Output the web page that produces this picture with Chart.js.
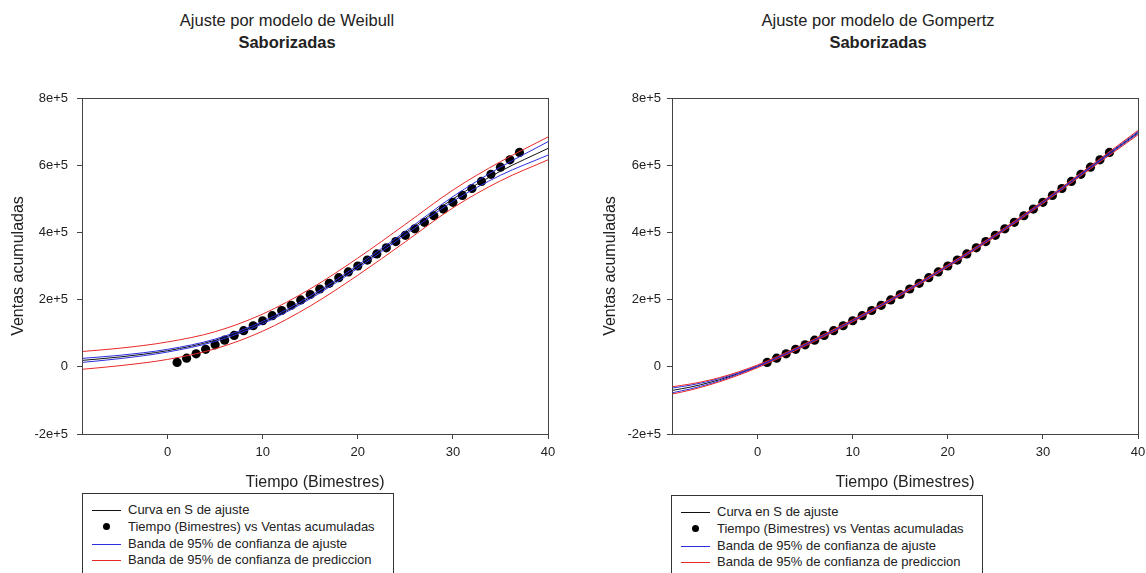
<!DOCTYPE html>
<html>
<head>
<meta charset="utf-8">
<script src="https://cdn.jsdelivr.net/npm/chart.js@4.4.1/dist/chart.umd.min.js"></script>
<style>
  body { margin: 0; background: #fff; overflow: hidden; font-family: 'Liberation Sans', Arial, sans-serif; color: #222; }
  #page { position: relative; width: 1146px; height: 573px; overflow: hidden; }
  canvas { position: absolute; top: 0; }
  .title { position: absolute; width: 400px; text-align: center; font-size: 16.5px; line-height: 20px; white-space: nowrap; }
  .sub { font-weight: bold; }
  .legend { position: absolute; width: 312px; height: 100px; box-sizing: border-box; border: 1px solid #333; background: #fff; }
  .row { position: absolute; left: 0; width: 100%; height: 0; font-size: 13px; }
  .swatch { position: absolute; left: 9px; top: 0; width: 29px; height: 1px; }
  .dot { position: absolute; left: 20px; top: -4px; width: 7px; height: 7px; border-radius: 50%; background: #000; }
  .label { position: absolute; left: 45px; top: -8px; line-height: 16px; white-space: nowrap; }
</style>
</head>
<body>
<div id="page">
  <div class="title" style="left: 87px; top: 10px;">Ajuste por modelo de Weibull</div>
  <div class="title sub" style="left: 87px; top: 32px;">Saborizadas</div>
  <div class="title" style="left: 678px; top: 10px;">Ajuste por modelo de Gompertz</div>
  <div class="title sub" style="left: 678px; top: 32px;">Saborizadas</div>
  <canvas id="chart-weibull" width="573" height="500" style="left: 0px;"></canvas>
  <canvas id="chart-gompertz" width="573" height="500" style="left: 590px;"></canvas>
  <div class="legend" id="legend-weibull" style="left: 82px; top: 493px;"></div>
  <div class="legend" id="legend-gompertz" style="left: 671px; top: 495px;"></div>
</div>
<script>
'use strict';

// observed data: bimestre number vs cumulative sales
const periods = [1, 2, 3, 4, 5, 6, 7, 8, 9, 10, 11, 12, 13, 14, 15, 16, 17, 18, 19, 20,
  21, 22, 23, 24, 25, 26, 27, 28, 29, 30, 31, 32, 33, 34, 35, 36, 37];
const sales = [13000, 25700, 38700, 51900, 65500, 79200, 93300, 107600, 122200, 137000,
  152100, 167500, 183100, 199000, 215200, 231600, 248300, 265300, 282500, 300000,
  317700, 335800, 354100, 372600, 391400, 410500, 429900, 449500, 469400, 489500,
  509900, 530600, 551600, 572800, 594200, 616000, 638000];

const xTicks = [0, 10, 20, 30, 40];
const yTicks = [-200000, 0, 200000, 400000, 600000, 800000];
const yTickLabels = ['-2e+5', '0', '2e+5', '4e+5', '6e+5', '8e+5'];

// Weibull fit and bands
const weibullX = [-9, -5, 0, 5, 10, 15, 20, 25, 30, 35, 40];
const weibullFit = [19000, 29400, 48000, 79000, 131500, 206500, 298000, 398000, 499500, 582000, 650000];
const weibullFitUpper = [25000, 34400, 52000, 82500, 135000, 210500, 302500, 403000, 506500, 594000, 670000];
const weibullFitLower = [13000, 24400, 44000, 75500, 128000, 202500, 293500, 393000, 492500, 570000, 630000];
const weibullPredUpper = [45500, 55400, 74000, 104500, 157000, 232000, 323500, 424000, 526000, 610500, 684000];
const weibullPredLower = [-7500, 3400, 22000, 53500, 106000, 181000, 272500, 372000, 473000, 553500, 616000];

// Gompertz fit and bands
const gompertzX = [-9, -7, -5, -3, -1, 0, 1, 5, 10, 15, 20, 25, 30, 35, 40];
const gompertzFit = [-70400, -59900, -46300, -29500, -9600, 1500, 13500, 65500, 137000, 215000, 300000, 391000, 489500, 593500, 697000];
const gompertzFitUpper = [-63400, -54400, -42300, -26700, -7800, 3000, 14900, 66800, 138300, 216300, 301300, 392300, 490900, 595300, 700000];
const gompertzFitLower = [-77400, -65400, -50300, -32300, -11400, 0, 12100, 64200, 135700, 213700, 298700, 389700, 488100, 591700, 694000];
const gompertzPredUpper = [-59400, -50900, -39300, -24000, -5100, 5500, 17300, 69100, 140600, 218600, 303600, 394600, 493300, 598000, 703500];
const gompertzPredLower = [-81400, -68900, -53300, -35000, -14100, -2500, 9700, 61900, 133400, 211400, 296400, 387400, 485700, 589000, 690500];

const legendLabels = [
  'Curva en S de ajuste',
  'Tiempo (Bimestres) vs Ventas acumuladas',
  'Banda de 95% de confianza de ajuste',
  'Banda de 95% de confianza de prediccion'
];

const FIT_COLOR = '#111';
const BLUE = 'rgb(45, 45, 225)';
const RED = 'rgb(232, 40, 40)';
const AXIS_COLOR = '#444';
const FONT = "'Liberation Sans', Arial, sans-serif";

Chart.defaults.font.family = FONT;
Chart.defaults.color = '#222';

function toPoints(xs, ys) {
  let pts = [];
  for (let i = 0; i < xs.length; i++) {
    pts.push({ x: xs[i], y: ys[i] });
  }
  return pts;
}

function curve(xs, ys, color) {
  return {
    data: toPoints(xs, ys),
    showLine: true,
    borderColor: color,
    borderWidth: 1,
    pointRadius: 0,
    cubicInterpolationMode: 'monotone',
    fill: false
  };
}

// box around the plot area (top and right sides too)
const framePlugin = {
  id: 'frame',
  afterDatasetsDraw(chart) {
    const { ctx, chartArea } = chart;
    ctx.save();
    ctx.strokeStyle = AXIS_COLOR;
    ctx.lineWidth = 1;
    ctx.strokeRect(Math.round(chartArea.left) + 0.5, Math.round(chartArea.top) + 0.5,
      Math.round(chartArea.width), Math.round(chartArea.height));
    ctx.restore();
  }
};

function makeChart(canvasId, xs, fit, fitUp, fitLow, predUp, predLow, yTitlePad, yTickPad) {
  const ctx = document.getElementById(canvasId).getContext('2d');

  // first dataset is drawn on top, so the points go last
  const datasets = [
    curve(xs, predUp, RED),
    curve(xs, predLow, RED),
    curve(xs, fitUp, BLUE),
    curve(xs, fitLow, BLUE),
    curve(xs, fit, FIT_COLOR),
    {
      data: toPoints(periods, sales),
      showLine: false,
      pointRadius: 4.6,
      pointBorderWidth: 0,
      pointBackgroundColor: '#000',
      pointBorderColor: '#000'
    }
  ];

  return new Chart(ctx, {
    type: 'scatter',
    data: { datasets: datasets },
    plugins: [framePlugin],
    options: {
      responsive: false,
      animation: false,
      layout: { padding: { top: 98, right: 25, left: 0, bottom: 0 } },
      plugins: {
        legend: { display: false },
        tooltip: { enabled: false }
      },
      scales: {
        x: {
          type: 'linear',
          min: -9,
          max: 40,
          afterBuildTicks: (scale) => { scale.ticks = xTicks.map(v => ({ value: v })); },
          afterFit: (scale) => { scale.height = 66; },
          ticks: { font: { size: 13 }, padding: 6, maxRotation: 0, color: '#222' },
          grid: { drawOnChartArea: false, tickLength: 5, color: AXIS_COLOR },
          border: { display: false },
          title: {
            display: true,
            text: 'Tiempo (Bimestres)',
            font: { size: 16 },
            color: '#222',
            padding: { top: 0, bottom: 8 }
          }
        },
        y: {
          min: -200000,
          max: 800000,
          afterBuildTicks: (scale) => { scale.ticks = yTicks.map(v => ({ value: v })); },
          afterFit: (scale) => { scale.width = 82; },
          ticks: {
            font: { size: 13 },
            padding: yTickPad,
            color: '#222',
            callback: (value) => yTickLabels[yTicks.indexOf(value)]
          },
          grid: { drawOnChartArea: false, tickLength: 5, color: AXIS_COLOR },
          border: { display: false },
          title: {
            display: true,
            text: 'Ventas acumuladas',
            font: { size: 16 },
            color: '#222',
            padding: { top: yTitlePad, bottom: 0 }
          }
        }
      }
    }
  });
}

function buildLegend(boxId) {
  const box = document.getElementById(boxId);
  const rowTops = [16, 33, 49.5, 66];
  const kinds = [FIT_COLOR, 'dot', BLUE, RED];
  for (let i = 0; i < legendLabels.length; i++) {
    let row = document.createElement('div');
    row.className = 'row';
    row.style.top = rowTops[i] + 'px';
    let mark = document.createElement('div');
    if (kinds[i] === 'dot') {
      mark.className = 'dot';
    } else {
      mark.className = 'swatch';
      mark.style.background = kinds[i];
    }
    let label = document.createElement('div');
    label.className = 'label';
    label.textContent = legendLabels[i];
    row.appendChild(mark);
    row.appendChild(label);
    box.appendChild(row);
  }
}

makeChart('chart-weibull', weibullX, weibullFit, weibullFitUpper, weibullFitLower,
  weibullPredUpper, weibullPredLower, 9, 9);
makeChart('chart-gompertz', gompertzX, gompertzFit, gompertzFitUpper, gompertzFitLower,
  gompertzPredUpper, gompertzPredLower, 11, 6);

buildLegend('legend-weibull');
buildLegend('legend-gompertz');
</script>
</body>
</html>
